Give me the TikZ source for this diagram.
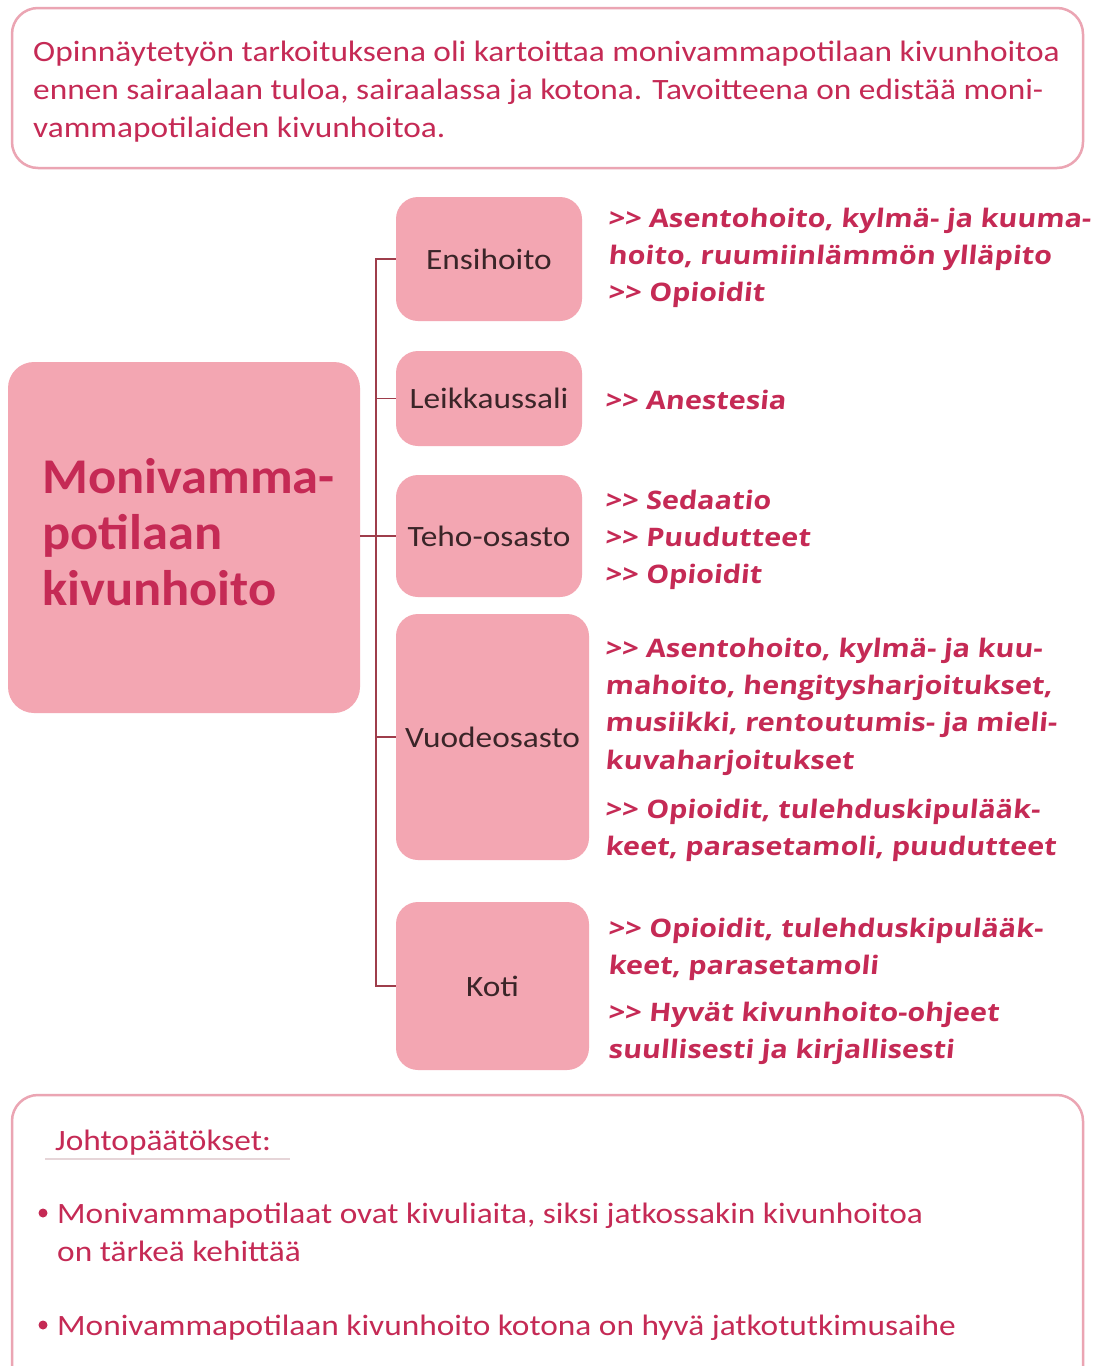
\documentclass[tikz,border=0pt]{standalone}
\usepackage{fontspec}
\setmainfont{Carlito}
\newfontfamily\calf{Carlito}[FakeStretch=1.13]
\newfontfamily\ttlf{Carlito}[FakeStretch=1.05]
\newfontfamily\redf{Open Sans}[FakeStretch=1.13,FakeSlant=0.09]
\definecolor{boxpink}{HTML}{F3A6B2}
\definecolor{redtxt}{HTML}{C52A55}
\definecolor{frame}{HTML}{EBA5B3}
\definecolor{conn}{HTML}{9E3D4B}
\definecolor{darktxt}{HTML}{3A2528}
\tikzset{
  frm/.style={draw=frame, line width=2.5pt, rounded corners=26pt, fill=white},
  branch/.style={fill=boxpink, rounded corners=22pt, text=darktxt, inner sep=0pt,
    font=\calf\fontsize{29.5}{36}\selectfont},
  ln/.style={anchor=base west, inner sep=0pt},
  intro/.style={ln, text=redtxt, font=\calf\fontsize{29.5}{37}\selectfont},
  red/.style={ln, text=redtxt, font=\redf\bfseries\fontsize{25.5}{36}\selectfont},
  ttl/.style={ln, text=redtxt, font=\ttlf\bfseries\fontsize{50}{56}\selectfont},
  concl/.style={ln, text=redtxt, font=\calf\fontsize{29.5}{37}\selectfont},
  cline/.style={draw=conn, line width=1.8pt},
  bul/.style={circle, fill=redtxt, inner sep=0pt, minimum size=9pt}
}
\begin{document}
\begin{tikzpicture}[x=1pt,y=-1pt]
\useasboundingbox (0,0) rectangle (1097,1366);
\clip (0,0) rectangle (1097,1366);
\fill[white] (0,0) rectangle (1097,1366);

% intro box
\node[frm, minimum width=1071pt, minimum height=160pt] (introbox) at (547.5,88) {};
\node[intro] (i1) at (33,61) {Opinnäytetyön tarkoituksena oli kartoittaa monivammapotilaan kivunhoitoa};
\node[intro] (i2) at (33,99) {ennen sairaalaan tuloa, sairaalassa ja kotona. Tavoitteena on edistää moni-};
\node[intro] (i3) at (33,137) {vammapotilaiden kivunhoitoa.};

% main box
\node[fill=boxpink, rounded corners=26pt, minimum width=352pt, minimum height=351pt, inner sep=0pt] (main) at (184,537.5) {};
\node[ttl] (t1) at (42,493) {Monivamma-};
\node[ttl] (t2) at (42,549) {potilaan};
\node[ttl] (t3) at (42,605) {kivunhoito};

% branch boxes
\node[branch, minimum width=186pt, minimum height=124pt] (ens) at (489,259) {Ensihoito};
\node[branch, minimum width=186pt, minimum height=95pt] (leik) at (489,398.5) {Leikkaussali};
\node[branch, minimum width=186pt, minimum height=122pt] (teho) at (489,536) {Teho-osasto};
\node[branch, minimum width=193pt, minimum height=246pt] (vuo) at (492.5,737) {Vuodeosasto};
\node[branch, minimum width=193pt, minimum height=168pt] (koti) at (492.5,986) {Koti};

% connectors
\coordinate (vx) at (376,0);
\draw[cline] (ens.west) -- (ens.west -| vx) -- (koti.west -| vx) -- (koti.west);
\draw[cline] (leik.west -| vx) -- (leik.west);
\draw[cline] (vuo.west -| vx) -- (vuo.west);
\draw[cline] (main.east |- teho.west) -- (teho.west);

% right texts
\node[red] (e1) at (608,227) {>\kern0pt> Asentohoito, kylmä- ja kuuma-};
\node[red] (e2) at (608,264) {hoito, ruumiinlämmön ylläpito};
\node[red] (e3) at (608,301) {>\kern0pt> Opioidit};

\node[red] (l1) at (605,409) {>\kern0pt> Anestesia};

\node[red] (h1) at (605,509) {>\kern0pt> Sedaatio};
\node[red] (h2) at (605,546) {>\kern0pt> Puudutteet};
\node[red] (h3) at (605,583) {>\kern0pt> Opioidit};

\node[red] (v1) at (605,657) {>\kern0pt> Asentohoito, kylmä- ja kuu-};
\node[red] (v2) at (605,694) {mahoito, hengitysharjoitukset,};
\node[red] (v3) at (605,731) {musiikki, rentoutumis- ja mieli-};
\node[red] (v4) at (605,769) {kuvaharjoitukset};
\node[red] (v5) at (605,818) {>\kern0pt> Opioidit, tulehduskipulääk-};
\node[red] (v6) at (605,855) {keet, parasetamoli, puudutteet};

\node[red] (k1) at (608,937) {>\kern0pt> Opioidit, tulehduskipulääk-};
\node[red] (k2) at (608,974) {keet, parasetamoli};
\node[red] (k3) at (608,1021) {>\kern0pt> Hyvät kivunhoito-ohjeet};
\node[red] (k4) at (608,1058) {suullisesti ja kirjallisesti};

% conclusions box
\node[frm, minimum width=1071pt, minimum height=300pt] (conbox) at (547.5,1245) {};
\node[concl] (c0) at (55,1150) {Johtopäätökset:};
\coordinate (u1) at (45,1159);
\coordinate (u2) at (290,1159);
\draw[draw=frame!60!gray!40, line width=1.2pt] (u1) -- (u2);
\node[bul] (b1) at (43,1213) {};
\node[concl] (c1) at (57,1223) {Monivammapotilaat ovat kivuliaita, siksi jatkossakin kivunhoitoa};
\node[concl] (c2) at (57,1261) {on tärkeä kehittää};
\node[bul] (b2) at (43,1325) {};
\node[concl] (c3) at (57,1335) {Monivammapotilaan kivunhoito kotona on hyvä jatkotutkimusaihe};
\end{tikzpicture}
\end{document}
